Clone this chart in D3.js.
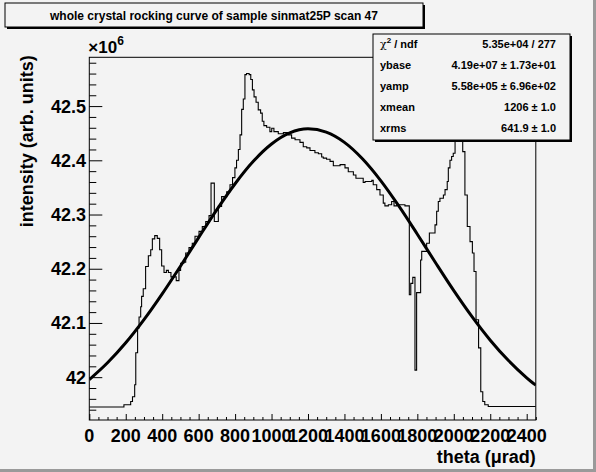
<!DOCTYPE html>
<html><head><meta charset="utf-8">
<script src="https://cdn.jsdelivr.net/npm/d3@7"></script>
<style>body{margin:0;background:#f3f3f3;}svg{display:block;font-family:"Liberation Sans",Arial,sans-serif;}</style>
</head><body><svg id="c" width="596" height="472"></svg>
<script>
// histogram steps: left edge of each step (µrad) and intensity (×10^6)
const theta = [0,190,227,237,249,255,265,273,282,287,296,309,324,337,346,359,373,386,397,410,423,434,448,477,492,501,519,529,547,565,580,602,620,639,657,668,686,708,726,754,772,786,799,808,818,827,836,845,854,863,877,886,895,904,915,927,940,949,958,973,991,1001,1013,1037,1065,1092,1110,1129,1156,1174,1193,1211,1238,1257,1275,1284,1302,1321,1339,1376,1403,1421,1449,1463,1476,1503,1513,1540,1550,1558,1577,1595,1613,1622,1641,1659,1672,1687,1732,1756,1764,1775,1787,1796,1818,1824,1851,1866,1879,1897,1906,1915,1924,1943,1952,1964,1970,1979,1988,1997,2007,2016,2030,2040,2049,2061,2074,2089,2102,2111,2122,2136,2148,2159,2170,2189,2450];
const intensity = [41.945,41.949,41.955,41.964,41.986,42.045,42.091,42.111,42.130,42.149,42.163,42.204,42.224,42.235,42.255,42.261,42.256,42.235,42.205,42.193,42.197,42.193,42.185,42.178,42.197,42.210,42.212,42.229,42.239,42.247,42.260,42.269,42.278,42.287,42.298,42.358,42.287,42.315,42.333,42.342,42.355,42.368,42.386,42.400,42.420,42.447,42.494,42.513,42.558,42.560,42.558,42.549,42.530,42.517,42.507,42.493,42.487,42.472,42.464,42.461,42.453,42.459,42.453,42.449,42.451,42.447,42.441,42.438,42.433,42.425,42.423,42.418,42.414,42.412,42.406,42.404,42.402,42.398,42.390,42.392,42.386,42.379,42.373,42.367,42.367,42.359,42.361,42.361,42.363,42.355,42.346,42.336,42.321,42.316,42.318,42.324,42.316,42.318,42.316,42.152,42.173,42.184,42.013,42.156,42.216,42.232,42.247,42.266,42.266,42.281,42.306,42.324,42.330,42.336,42.346,42.361,42.386,42.400,42.407,42.413,42.450,42.480,42.500,42.480,42.416,42.336,42.278,42.250,42.229,42.195,42.106,42.054,41.973,41.955,41.949,41.946,41.946];
// gaussian fit curve sampled along theta
const fitTheta = [0,100,200,300,400,500,600,700,800,900,1000,1100,1200,1300,1400,1500,1600,1700,1800,1900,2000,2100,2200,2300,2400,2450];
const fitValues = [41.9955,42.0265,42.0634,42.1061,42.1537,42.2047,42.2574,42.3090,42.3568,42.3981,42.4300,42.4505,42.4580,42.4520,42.4331,42.4024,42.3622,42.3150,42.2637,42.2110,42.1596,42.1116,42.0682,42.0306,41.9989,41.9853];
const xTicks = [0,200,400,600,800,1000,1200,1400,1600,1800,2000,2200,2400];
const yTicks = [42,42.1,42.2,42.3,42.4,42.5];
const titleText = "whole crystal rocking curve of sample sinmat25P scan 47";
const statLabels = ["ndf","ybase","yamp","xmean","xrms"];
const statValues = ["5.35e+04 / 277","4.19e+07 \u00b1 1.73e+01","5.58e+05 \u00b1 6.96e+02","1206 \u00b1 1.0","641.9 \u00b1 1.0"];

const svg = d3.select("#c");
const W=596,H=472;
const L=89.3,R=535.8,T=57.3,B=420;
const x = d3.scaleLinear().domain([0,2450]).range([L,R]);
const y = d3.scaleLinear().domain([41.921,42.590]).range([B,T]);

// canvas bevel
svg.append("rect").attr("x",0).attr("y",0).attr("width",W).attr("height",H).attr("fill","#f3f3f3");
svg.append("rect").attr("x",W-3).attr("y",0).attr("width",3).attr("height",H).attr("fill","#9a9a9a");
svg.append("rect").attr("x",0).attr("y",H-3).attr("width",W).attr("height",3).attr("fill","#9a9a9a");

// clip
svg.append("clipPath").attr("id","clip").append("rect").attr("x",L).attr("y",T).attr("width",R-L).attr("height",B-T);

// histogram
const pts = theta.map((t,i)=>[t,intensity[i]]);
svg.append("path").attr("clip-path","url(#clip)")
  .attr("d", d3.line().x(d=>x(d[0])).y(d=>y(d[1])).curve(d3.curveStepAfter)(pts))
  .attr("fill","none").attr("stroke","#000").attr("stroke-width",1.1);

// fit
svg.append("path").attr("clip-path","url(#clip)")
  .attr("d", d3.line().x((d,i)=>x(fitTheta[i])).y(d=>y(d)).curve(d3.curveMonotoneX)(fitValues))
  .attr("fill","none").attr("stroke","#000").attr("stroke-width",3);

// frame
svg.append("rect").attr("x",L).attr("y",T).attr("width",R-L).attr("height",B-T).attr("fill","none").attr("stroke","#000").attr("stroke-width",1);

// x axis
const xMinor = d3.range(0,2451,50).filter(v=>v%200!==0);
const gx = svg.append("g").attr("transform",`translate(0,${B})`);
gx.call(d3.axisBottom(x).tickValues(xMinor).tickSize(-3).tickFormat(""));
gx.append("g").call(d3.axisBottom(x).tickValues(xTicks).tickSize(-6).tickFormat(""));
gx.selectAll(".domain").remove();
gx.selectAll("line").attr("stroke","#000");
svg.append("g").selectAll("text").data(xTicks).join("text")
  .attr("x",d=>x(d)).attr("y",442).attr("text-anchor","middle")
  .attr("font-size",18).attr("font-weight","bold").text(d=>d);

// y axis
const yMinor = d3.range(41.94,42.59,0.02).map(v=>+v.toFixed(2)).filter(v=>Math.abs(v*10-Math.round(v*10))>0.01);
const gy = svg.append("g").attr("transform",`translate(${L},0)`);
gy.call(d3.axisLeft(y).tickValues(yMinor).tickSize(-7).tickFormat(""));
gy.append("g").call(d3.axisLeft(y).tickValues(yTicks).tickSize(-13).tickFormat(""));
gy.selectAll(".domain").remove();
gy.selectAll("line").attr("stroke","#000");
svg.append("g").selectAll("text").data(yTicks).join("text")
  .attr("x",86).attr("y",d=>y(d)).attr("dy","0.36em").attr("text-anchor","end")
  .attr("font-size",18).attr("font-weight","bold").text(d=>d3.format("")(d));

// exponent
const ex = svg.append("text").attr("x",L-1).attr("y",53).attr("font-size",17).attr("font-weight","bold");
ex.append("tspan").text("\u00d710");
ex.append("tspan").attr("dy",-8).attr("font-size",12).text("6");

// axis titles
svg.append("text").attr("x",R).attr("y",463).attr("text-anchor","end").attr("font-size",18).attr("font-weight","bold").text("theta (\u03bcrad)");
svg.append("text").attr("transform",`translate(33,${T-2}) rotate(-90)`).attr("text-anchor","end").attr("font-size",18).attr("font-weight","bold").text("intensity (arb. units)");

// title box
svg.append("rect").attr("x",7).attr("y",5).attr("width",418).attr("height",24).attr("fill","#000");
svg.append("rect").attr("x",5).attr("y",3).attr("width",418).attr("height",24).attr("fill","#f3f3f3").attr("stroke","#000").attr("stroke-width",1);
svg.append("text").attr("x",214).attr("y",20).attr("text-anchor","middle").attr("font-size",12).attr("font-weight","bold").text(titleText);

// stats box
const sx=373, sy=34, sw=197, sh=106;
svg.append("rect").attr("x",sx+2).attr("y",sy+2).attr("width",sw).attr("height",sh).attr("fill","#000");
svg.append("rect").attr("x",sx).attr("y",sy).attr("width",sw).attr("height",sh).attr("fill","#f3f3f3").attr("stroke","#000").attr("stroke-width",1);
const rowY = d3.scaleLinear().domain([0,4]).range([48,132]);
statLabels.forEach((lab,i)=>{
  const t = svg.append("text").attr("x",380).attr("y",rowY(i)).attr("font-size",11).attr("font-weight","bold");
  if(i===0){
    t.append("tspan").attr("font-weight","normal").attr("font-family","DejaVu Serif, serif").text("\u03c7");
    t.append("tspan").attr("dy",-5).attr("font-size",8).text("2");
    t.append("tspan").attr("dy",5).text(" / "+lab);
  } else t.text(lab);
  svg.append("text").attr("x",556).attr("y",rowY(i)).attr("text-anchor","end").attr("font-size",11).attr("font-weight","bold").text(statValues[i]);
});
</script></body></html>
